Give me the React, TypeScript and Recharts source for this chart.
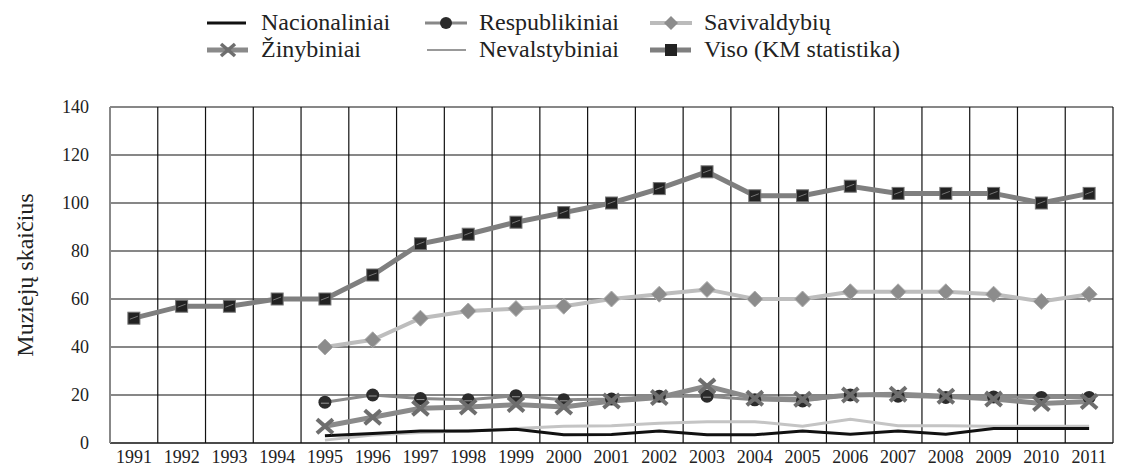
import React from 'react';
import { LineChart, Line, XAxis, YAxis, CartesianGrid, Label } from 'recharts';

const years = [1991, 1992, 1993, 1994, 1995, 1996, 1997, 1998, 1999, 2000, 2001, 2002, 2003, 2004, 2005, 2006, 2007, 2008, 2009, 2010, 2011];

// null = no data for that year
const nacionaliniai = [null, null, null, null, 3, 4, 5, 5, 5.7, 3.4, 3.5, 5, 3.4, 3.4, 5, 3.6, 5, 3.6, 6, 6, 6];
const respublikiniai = [null, null, null, null, 17, 20, 18.5, 18, 19.7, 18, 18.3, 19.5, 19.5, 18, 17.5, 20, 19.5, 19, 19.2, 19, 19];
const savivaldybiu = [null, null, null, null, 40, 43, 52, 55, 56, 57, 60, 62, 64, 60, 60, 63, 63, 63, 62, 59, 62];
const zinybiniai = [null, null, null, null, 7, 10.7, 14.5, 15, 16, 15, 17.5, 19, 23.7, 18.6, 18.2, 20, 20.3, 19.5, 18.3, 16.5, 17.3];
const nevalstybiniai = [null, null, null, null, 1.2, 3.3, 4.4, 5, 6, 7, 7.2, 8.2, 8.9, 8.9, 7, 9.9, 7.2, 7.2, 7, 7, 7];
const viso = [52, 57, 57, 60, 60, 70, 83, 87, 92, 96, 100, 106, 113, 103, 103, 107, 104, 104, 104, 100, 104];

const yTicks = [0, 20, 40, 60, 80, 100, 120, 140];
// band edges for the vertical grid
const gridEdges = [...years.map(y => y - 0.5), 2011.5];

const data = years.map((year, i) => ({
  year,
  nacionaliniai: nacionaliniai[i],
  respublikiniai: respublikiniai[i],
  savivaldybiu: savivaldybiu[i],
  zinybiniai: zinybiniai[i],
  nevalstybiniai: nevalstybiniai[i],
  viso: viso[i],
}));

const FONT = 'Liberation Serif, Times New Roman, serif';

const SquareDot = (props: any) => {
  const { cx, cy } = props;
  if (cx == null || cy == null || props.value == null) return null;
  return (
    <g>
      <rect x={cx - 6} y={cy - 6} width={12} height={12} fill="#222" stroke="#777" strokeWidth={1} />
      <line x1={cx - 4} y1={cy + 1} x2={cx + 4} y2={cy - 2} stroke="#777" strokeWidth={1} />
    </g>
  );
};

const DiamondDot = (props: any) => {
  const { cx, cy } = props;
  if (cx == null || cy == null || props.value == null) return null;
  return (
    <polygon
      points={`${cx},${cy - 8} ${cx + 8},${cy} ${cx},${cy + 8} ${cx - 8},${cy}`}
      fill="#8c8c8c"
      stroke="#aaa"
      strokeWidth={1}
    />
  );
};

const CircleDot = (props: any) => {
  const { cx, cy } = props;
  if (cx == null || cy == null || props.value == null) return null;
  return (
    <g>
      <circle cx={cx} cy={cy} r={6.5} fill="#2b2b2b" />
      <line x1={cx - 4} y1={cy + 1} x2={cx + 4} y2={cy + 1} stroke="#999" strokeWidth={1} />
    </g>
  );
};

const CrossDot = (props: any) => {
  const { cx, cy } = props;
  if (cx == null || cy == null || props.value == null) return null;
  return (
    <g stroke="#6e6e6e" strokeWidth={4} strokeLinecap="butt">
      <line x1={cx - 8} y1={cy - 7} x2={cx + 8} y2={cy + 7} />
      <line x1={cx - 8} y1={cy + 7} x2={cx + 8} y2={cy - 7} />
    </g>
  );
};

const legendItems = [
  { name: 'Nacionaliniai', icon: 'black' },
  { name: 'Respublikiniai', icon: 'circle' },
  { name: 'Savivaldybių', icon: 'diamond' },
  { name: 'Žinybiniai', icon: 'cross' },
  { name: 'Nevalstybiniai', icon: 'light' },
  { name: 'Viso (KM statistika)', icon: 'square' },
];

const LegendIcon = ({ icon }: { icon: string }) => {
  return (
    <svg width={42} height={16} style={{ marginRight: 12, flex: 'none' }}>
      {icon === 'black' && <line x1={0} y1={8} x2={39} y2={8} stroke="#111" strokeWidth={3} />}
      {icon === 'light' && <line x1={2} y1={8} x2={41} y2={8} stroke="#999" strokeWidth={2} />}
      {icon === 'circle' && (
        <g>
          <line x1={0} y1={8} x2={42} y2={8} stroke="#888" strokeWidth={3} />
          <circle cx={21} cy={8} r={6} fill="#2b2b2b" />
        </g>
      )}
      {icon === 'diamond' && (
        <g>
          <line x1={0} y1={8} x2={42} y2={8} stroke="#bbb" strokeWidth={4} />
          <polygon points="21,1 28,8 21,15 14,8" fill="#8c8c8c" />
        </g>
      )}
      {icon === 'cross' && (
        <g>
          <line x1={0} y1={8} x2={41} y2={8} stroke="#8a8a8a" strokeWidth={5} />
          <g stroke="#6e6e6e" strokeWidth={3.5}>
            <line x1={14} y1={2} x2={28} y2={14} />
            <line x1={14} y1={14} x2={28} y2={2} />
          </g>
        </g>
      )}
      {icon === 'square' && (
        <g>
          <line x1={0} y1={8} x2={41} y2={8} stroke="#7f7f7f" strokeWidth={5} />
          <rect x={15} y={2} width={12} height={12} fill="#222" />
        </g>
      )}
    </svg>
  );
};

export default function App() {
  return (
    <div style={{ position: 'absolute', left: 0, top: 0, width: 1127, height: 466, background: '#fff', fontFamily: FONT }}>
      <div
        style={{
          position: 'absolute',
          left: 207,
          top: 9,
          display: 'grid',
          gridTemplateColumns: '218px 225px 300px',
          fontSize: 24,
          color: '#222',
          lineHeight: '27px',
        }}
      >
        {legendItems.map(item => (
          <div key={item.name} style={{ display: 'flex', alignItems: 'center', whiteSpace: 'nowrap' }}>
            <LegendIcon icon={item.icon} />
            <span>{item.name}</span>
          </div>
        ))}
      </div>
      <LineChart
        width={1127}
        height={466}
        data={data}
        margin={{ top: 107, right: 14, bottom: 0, left: 0 }}
        style={{ position: 'absolute', left: 0, top: 0 }}
      >
        <XAxis xAxisId="grid" dataKey="year" type="number" domain={[1990.5, 2011.5]} ticks={gridEdges} interval={0} hide />
        <CartesianGrid xAxisId="grid" stroke="#111" strokeWidth={1.2} horizontal={true} vertical={true} />
        <XAxis
          dataKey="year"
          type="number"
          domain={[1990.5, 2011.5]}
          ticks={years}
          interval={0}
          tickLine={false}
          axisLine={{ stroke: '#111', strokeWidth: 1.2 }}
          tickSize={0}
          tickMargin={7}
          height={23}
          tick={{ fill: '#222', fontSize: 18, fontFamily: FONT }}
        />
        <YAxis
          domain={[0, 140]}
          ticks={yTicks}
          interval={0}
          width={110}
          tickLine={false}
          axisLine={{ stroke: '#888', strokeWidth: 2 }}
          tickSize={0}
          tickMargin={21}
          tick={{ fill: '#222', fontSize: 18, fontFamily: FONT }}
        >
          <Label
            value="Muziejų skaičius"
            angle={-90}
            position="insideLeft"
            offset={24}
            style={{ fill: '#222', fontSize: 24, fontFamily: FONT, textAnchor: 'middle' }}
          />
        </YAxis>
        <Line dataKey="nevalstybiniai" stroke="#c4c4c4" strokeWidth={3} dot={false} isAnimationActive={false} connectNulls={false} />
        <Line dataKey="nacionaliniai" stroke="#111" strokeWidth={3} dot={false} isAnimationActive={false} />
        <Line dataKey="savivaldybiu" stroke="#bdbdbd" strokeWidth={4} dot={<DiamondDot />} isAnimationActive={false} />
        <Line dataKey="respublikiniai" stroke="#8a8a8a" strokeWidth={3} dot={<CircleDot />} isAnimationActive={false} />
        <Line dataKey="zinybiniai" stroke="#8a8a8a" strokeWidth={5} dot={<CrossDot />} isAnimationActive={false} />
        <Line dataKey="viso" stroke="#7f7f7f" strokeWidth={5} dot={<SquareDot />} isAnimationActive={false} />
      </LineChart>
    </div>
  );
}
